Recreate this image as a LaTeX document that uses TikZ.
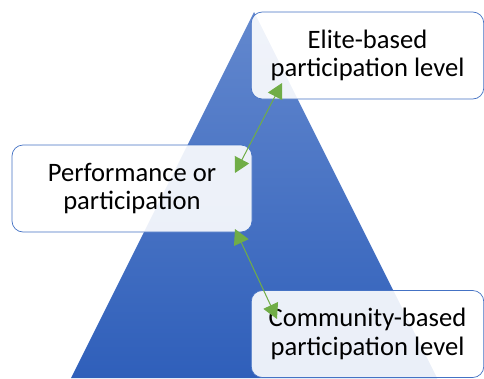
\documentclass[tikz,border=0pt]{standalone}
\usepackage{fontspec}
\setmainfont{Carlito}
\usetikzlibrary{arrows.meta}
\definecolor{boxline}{HTML}{4472C4}
\definecolor{pyrtop}{HTML}{6388CE}
\definecolor{pyrbot}{HTML}{2F5FBA}
\definecolor{linkgreen}{HTML}{70AD47}
\tikzset{
  level/.style={draw=boxline, line width=0.7pt, fill=white, fill opacity=0.9,
    text opacity=1, rounded corners=11pt, align=center,
    font=\fontsize{26.6}{28.5}\selectfont, text=black, inner sep=0pt},
  link/.style={draw=linkgreen, line width=1pt,
    {Triangle[length=15pt,width=16pt,fill=linkgreen]}-{Triangle[length=15pt,width=16pt,fill=linkgreen]}}
}
\begin{document}
\begin{tikzpicture}[x=1pt,y=-1pt]
\useasboundingbox (0,0) rectangle (484,378);
% pyramid with vertical gradient
\shade[top color=pyrtop, bottom color=pyrbot] (254,12) -- (437,378) -- (71,378) -- cycle;
% level boxes
\node[level, minimum width=232.5pt, minimum height=87pt] (elite) at (367.5,55.5)
  {Elite-based\\participation level};
\node[level, minimum width=240pt, minimum height=87pt] (perf) at (132,188.5)
  {Performance or\\participation};
\node[level, minimum width=232.5pt, minimum height=87pt] (comm) at (367.5,334)
  {Community-based\\participation level};
% link end points
\coordinate (e1) at (282,83);
\coordinate (p1) at (235,173);
\coordinate (p2) at (235,229);
\coordinate (c1) at (277,319);
\draw[link] (e1) -- (p1);
\draw[link] (p2) -- (c1);
\end{tikzpicture}
\end{document}
